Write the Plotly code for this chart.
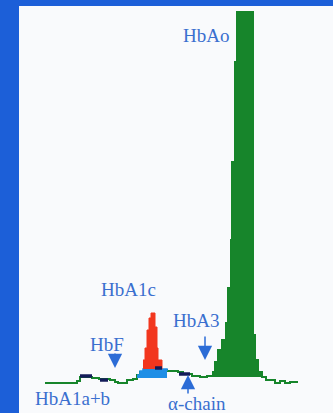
import plotly.graph_objects as go

# Chromatogram trace (retention units, signal units)
time = [26, 58, 61, 73, 80, 91, 96, 99, 108, 114, 118, 121, 126, 141, 148, 159, 164, 173,
        181, 188, 194, 196, 199, 203, 207, 209, 212, 213, 216, 218, 234, 236, 239, 243,
        247, 256, 261, 266, 271, 279]
signal = [30, 32, 36, 35, 34, 33, 31, 30, 33, 34, 38, 41, 44, 43, 42, 41, 39, 37,
          36, 37, 41, 51, 63, 73, 90, 125, 173, 251, 351, 401, 78, 53, 41, 36,
          33, 30, 32, 30, 31, 31]

# HbAo integration window and baseline
hbao_window = [188, 247]
hbao_base = 36

# HbA1c (red) peak
a1c_time = [124, 126, 128, 130, 132, 136, 138, 139, 143]
a1c_signal = [53, 65, 83, 95, 100, 86, 65, 53, 44]
a1c_base = 44

# labile fraction (blue) under HbA1c
lab_time = [118, 121, 124, 143, 148]
lab_signal = [38, 42, 44, 44, 42]
lab_base = 35

# minor peaks (dark marks)
minor_time = [[61, 73], [81, 89], [160, 171], [136, 143]]
minor_signal = [[37, 37], [33, 33], [39, 39], [45, 45]]

# labels
labels = ["HbAo", "HbA1c", "HbA3", "HbF", "HbA1a+b", "\u03b1-chain"]
label_x = [187, 109, 177, 88, 53, 178]
label_y = [378, 124, 93, 69, 15, 10]

# arrows: (x, tail y, head y)
arrow_x = [96, 186, 169]
arrow_tail = [61, 78, 18]
arrow_head = [45, 53, 38]

GREEN = "#17852b"
RED = "#f2361e"
LBLUE = "#1e8ee6"
TXT = "#3a6fcf"
FONT = "Times New Roman, Liberation Serif, DejaVu Serif, serif"

fig = go.Figure()

# full chromatogram line
fig.add_trace(go.Scatter(x=time, y=signal, mode="lines", line=dict(color=GREEN, width=2, shape="hv"),
                         hoverinfo="skip"))

# HbAo filled peak
pk_t = [t for t in time if hbao_window[0] <= t <= hbao_window[1]]
pk_s = [s for t, s in zip(time, signal) if hbao_window[0] <= t <= hbao_window[1]]
fig.add_trace(go.Scatter(x=pk_t, y=[hbao_base] * len(pk_t), mode="lines",
                         line=dict(width=0, shape="hv"), hoverinfo="skip"))
fig.add_trace(go.Scatter(x=pk_t, y=pk_s, mode="lines", fill="tonexty", fillcolor=GREEN,
                         line=dict(color=GREEN, width=1.5, shape="hv"), hoverinfo="skip"))

# labile fraction (blue)
fig.add_trace(go.Scatter(x=lab_time, y=[lab_base] * len(lab_time), mode="lines",
                         line=dict(width=0, shape="hv"), hoverinfo="skip"))
fig.add_trace(go.Scatter(x=lab_time, y=lab_signal, mode="lines", fill="tonexty", fillcolor=LBLUE,
                         line=dict(color=LBLUE, width=1.5, shape="hv"), hoverinfo="skip"))

# HbA1c red peak
fig.add_trace(go.Scatter(x=a1c_time, y=[a1c_base] * len(a1c_time), mode="lines",
                         line=dict(width=0, shape="hv"), hoverinfo="skip"))
fig.add_trace(go.Scatter(x=a1c_time, y=a1c_signal, mode="lines", fill="tonexty", fillcolor=RED,
                         line=dict(color=RED, width=1, shape="hv"), hoverinfo="skip"))

# minor peaks
for mt, ms in zip(minor_time, minor_signal):
    fig.add_trace(go.Scatter(x=mt, y=ms, mode="lines", line=dict(color="#141c5a", width=3.5),
                             hoverinfo="skip"))

for lab, lx, ly in zip(labels, label_x, label_y):
    fig.add_annotation(x=lx, y=ly, xref="x", yref="y", text=lab, showarrow=False,
                       font=dict(family=FONT, size=19, color=TXT))

for ax_, tl, hd in zip(arrow_x, arrow_tail, arrow_head):
    fig.add_annotation(x=ax_, y=hd, ax=ax_, ay=tl, xref="x", yref="y", axref="x", ayref="y",
                       text="", showarrow=True, arrowhead=2, arrowsize=1.9, arrowwidth=1.5,
                       arrowcolor="#2c6cd6")

fig.update_layout(
    width=333, height=413,
    margin=dict(l=19, r=0, t=6, b=0),
    paper_bgcolor="#1c5fd8",
    plot_bgcolor="#f9fafc",
    showlegend=False,
    font=dict(family=FONT),
    xaxis=dict(range=[0, 314], visible=False, fixedrange=True),
    yaxis=dict(range=[0, 407], visible=False, fixedrange=True),
)

fig.write_html("out.html", config={"displayModeBar": False},
               post_script="document.body.style.margin='0';document.body.style.overflow='hidden';")
